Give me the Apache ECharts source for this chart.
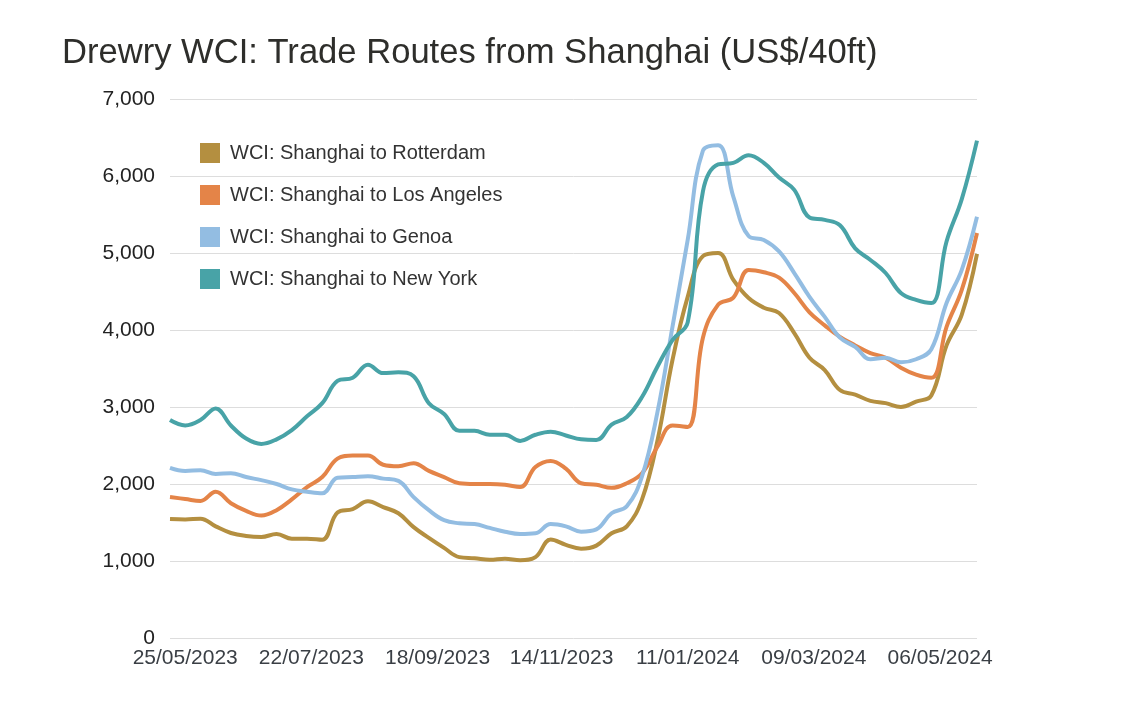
<!DOCTYPE html>
<html>
<head>
<meta charset="utf-8">
<script src="https://cdn.jsdelivr.net/npm/echarts@6/dist/echarts.min.js"></script>
<style>
html,body{margin:0;padding:0;background:#fff;}
#chart{width:1148px;height:718px;}
</style>
</head>
<body>
<div id="chart"></div>
<script>
const title = 'Drewry WCI: Trade Routes from Shanghai (US$/40ft)';
const seriesNames = ['WCI: Shanghai to Rotterdam', 'WCI: Shanghai to Los Angeles', 'WCI: Shanghai to Genoa', 'WCI: Shanghai to New York'];
const seriesColors = ['#b48f40', '#e48448', '#93bde2', '#48a3a7'];

const dates = [
  '2023-05-18','2023-05-25','2023-06-01','2023-06-08','2023-06-15','2023-06-22','2023-06-29',
  '2023-07-06','2023-07-13','2023-07-20','2023-07-27','2023-08-03','2023-08-10','2023-08-17',
  '2023-08-24','2023-08-31','2023-09-07','2023-09-14','2023-09-21','2023-09-28','2023-10-05',
  '2023-10-12','2023-10-19','2023-10-26','2023-11-02','2023-11-09','2023-11-16','2023-11-23',
  '2023-11-30','2023-12-07','2023-12-14','2023-12-21','2023-12-28','2024-01-04','2024-01-11',
  '2024-01-18','2024-01-25','2024-02-01','2024-02-08','2024-02-15','2024-02-22','2024-02-29',
  '2024-03-07','2024-03-14','2024-03-21','2024-03-28','2024-04-04','2024-04-11','2024-04-18',
  '2024-04-25','2024-05-02','2024-05-09','2024-05-16','2024-05-23'
];

const rotterdam = [
  1545,1540,1550,1450,1364,1325,1312,1350,1290,1290,1275,1630,1675,1775,
  1700,1620,1440,1300,1170,1050,1035,1015,1030,1010,1050,1280,1210,1160,
  1200,1360,1450,1800,2550,3610,4430,4960,5000,4650,4415,4290,4220,3960,
  3640,3480,3220,3160,3080,3050,3000,3070,3150,3800,4200,4990
];
const losAngeles = [
  1830,1805,1780,1900,1750,1650,1590,1660,1800,1960,2090,2330,2370,2370,
  2250,2230,2270,2170,2090,2010,2000,2000,1990,1960,2220,2300,2200,2010,
  1990,1950,2010,2140,2480,2760,2740,3900,4330,4420,4780,4750,4680,4480,
  4230,4060,3910,3800,3700,3640,3510,3420,3380,4040,4520,5260
];
const genoa = [
  2210,2170,2180,2130,2140,2090,2050,2000,1930,1900,1880,2080,2090,2100,
  2070,2040,1830,1660,1530,1490,1480,1430,1380,1350,1360,1480,1450,1380,
  1410,1620,1710,2100,2920,4040,5170,6330,6400,5730,5220,5170,5020,4740,
  4430,4170,3900,3780,3620,3640,3580,3620,3750,4350,4780,5470
];
const newYork = [
  2830,2760,2830,2980,2760,2590,2520,2580,2700,2880,3050,3340,3380,3550,
  3440,3450,3400,3050,2910,2690,2690,2640,2640,2560,2640,2680,2630,2580,
  2570,2770,2870,3130,3520,3870,4100,5800,6150,6170,6270,6170,5980,5820,
  5460,5430,5360,5060,4910,4740,4480,4390,4350,5150,5700,6460
];

const xTickDates = ['2023-05-25','2023-07-22','2023-09-18','2023-11-14','2024-01-11','2024-03-09','2024-05-06'];
const yTicks = [0, 1000, 2000, 3000, 4000, 5000, 6000, 7000];

function ts(s) { const p = s.split('-').map(Number); return Date.UTC(p[0], p[1] - 1, p[2]); }
function pad(n) { return (n < 10 ? '0' : '') + n; }
function fmtDate(v) { const d = new Date(v); return pad(d.getUTCDate()) + '/' + pad(d.getUTCMonth() + 1) + '/' + d.getUTCFullYear(); }

const allValues = [rotterdam, losAngeles, genoa, newYork];

const chart = echarts.init(document.getElementById('chart'), null, { renderer: 'canvas' });
const FONT = '"Liberation Sans", Arial, Helvetica, sans-serif';

chart.setOption({
  animation: false,
  backgroundColor: '#ffffff',
  title: {
    text: title,
    left: 57,
    top: 31,
    textStyle: { fontFamily: FONT, fontSize: 34.6, fontWeight: 'normal', color: '#2e2e2b' }
  },
  legend: {
    orient: 'vertical',
    left: 195,
    top: 138,
    itemWidth: 20,
    itemHeight: 20,
    itemGap: 22,
    icon: 'rect',
    textStyle: { fontFamily: FONT, fontSize: 20, color: '#333', padding: [0, 0, 0, 5] },
    data: seriesNames
  },
  grid: { left: 170, right: 171, top: 99, bottom: 80, containLabel: false },
  xAxis: {
    type: 'value',
    min: ts(dates[0]),
    max: ts(dates[dates.length - 1]),
    axisLine: { show: false },
    axisTick: { show: false },
    splitLine: { show: false },
    axisLabel: {
      customValues: xTickDates.map(ts),
      formatter: function (v) { return fmtDate(v); },
      fontFamily: FONT,
      fontSize: 21,
      color: '#3a3f45',
      margin: 10,
      hideOverlap: false
    }
  },
  yAxis: {
    type: 'value',
    min: yTicks[0],
    max: yTicks[yTicks.length - 1],
    interval: 1000,
    axisLine: { show: false },
    axisTick: { show: false },
    splitLine: { lineStyle: { color: '#dddddd', width: 1 } },
    axisLabel: {
      formatter: function (v) { return v.toLocaleString('en-US'); },
      fontFamily: FONT,
      fontSize: 21,
      color: '#222',
      margin: 15
    }
  },
  series: seriesNames.map(function (name, k) {
    return {
      name: name,
      type: 'line',
      smooth: 0.4,
      showSymbol: false,
      color: seriesColors[k],
      lineStyle: { width: 4, color: seriesColors[k] },
      data: dates.map(function (d, i) { return [ts(d), allValues[k][i]]; })
    };
  })
});
</script>
</body>
</html>
